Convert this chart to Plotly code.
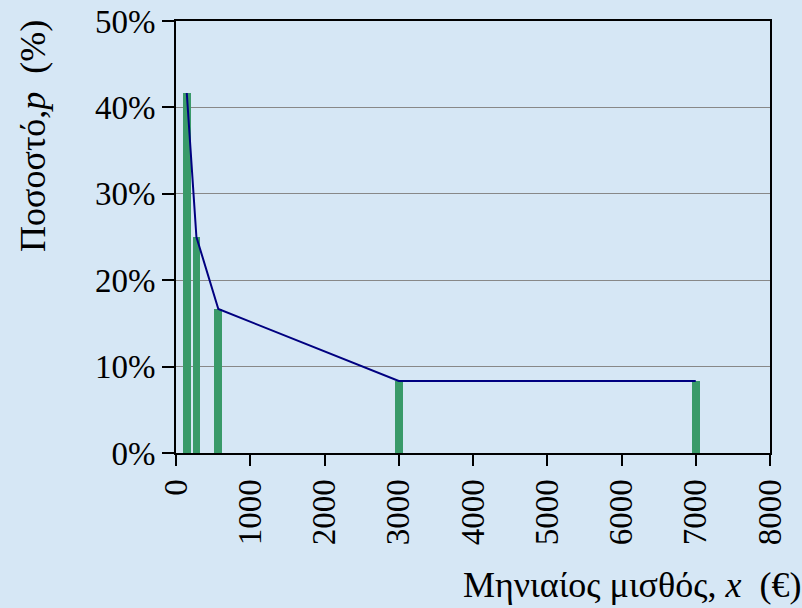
import plotly.graph_objects as go

salary = [145, 275, 570, 3000, 7000]
percent = [41.67, 25.0, 16.67, 8.33, 8.33]
x_ticks = [0, 1000, 2000, 3000, 4000, 5000, 6000, 7000, 8000]
y_ticks = [0, 10, 20, 30, 40, 50]
y_labels = ["0%", "10%", "20%", "30%", "40%", "50%"]

bg = "#D6E7F5"
font = "Liberation Serif, Times New Roman, serif"

fig = go.Figure()
fig.add_trace(go.Scatter(x=salary, y=percent, mode="lines",
                         line=dict(color="#000080", width=2), hoverinfo="skip"))
fig.add_trace(go.Bar(x=salary, y=percent, width=105, marker=dict(color="#399A69", line=dict(width=0))))

fig.update_layout(
    width=802, height=608,
    paper_bgcolor=bg, plot_bgcolor=bg,
    margin=dict(l=176, r=32, t=21, b=155),
    showlegend=False,
    font=dict(family=font, size=33, color="black"),
    bargap=0,
)
fig.update_xaxes(range=[0, 8000], tickvals=x_ticks, ticktext=[str(v) for v in x_ticks],
                 tickangle=-90, ticks="outside", ticklen=11, tickwidth=2, tickcolor="black",
                 showline=True, linecolor="black", linewidth=2, mirror=True,
                 showgrid=False, zeroline=False, automargin=False)
fig.update_yaxes(range=[0, 50], tickvals=y_ticks, ticktext=y_labels,
                 ticks="outside", ticklen=12, tickwidth=2, tickcolor="black",
                 showline=True, linecolor="black", linewidth=2, mirror=True,
                 showgrid=True, gridcolor="#888888", gridwidth=1, zeroline=False,
                 automargin=False)

fig.add_annotation(text="Μηνιαίος μισθός, <i>x</i>  (€)", xref="paper", yref="paper",
                   x=1.056, y=-0.305, xanchor="right", yanchor="middle", showarrow=False,
                   font=dict(family=font, size=36))
fig.add_annotation(text="Ποσοστό,<i>p</i>  (%)", xref="paper", yref="paper",
                   x=-0.24, y=0.735, xanchor="center", yanchor="middle", textangle=-90,
                   showarrow=False, font=dict(family=font, size=36))

fig.write_html("out.html", config={"displayModeBar": False},
               post_script="document.body.style.margin='0';")
